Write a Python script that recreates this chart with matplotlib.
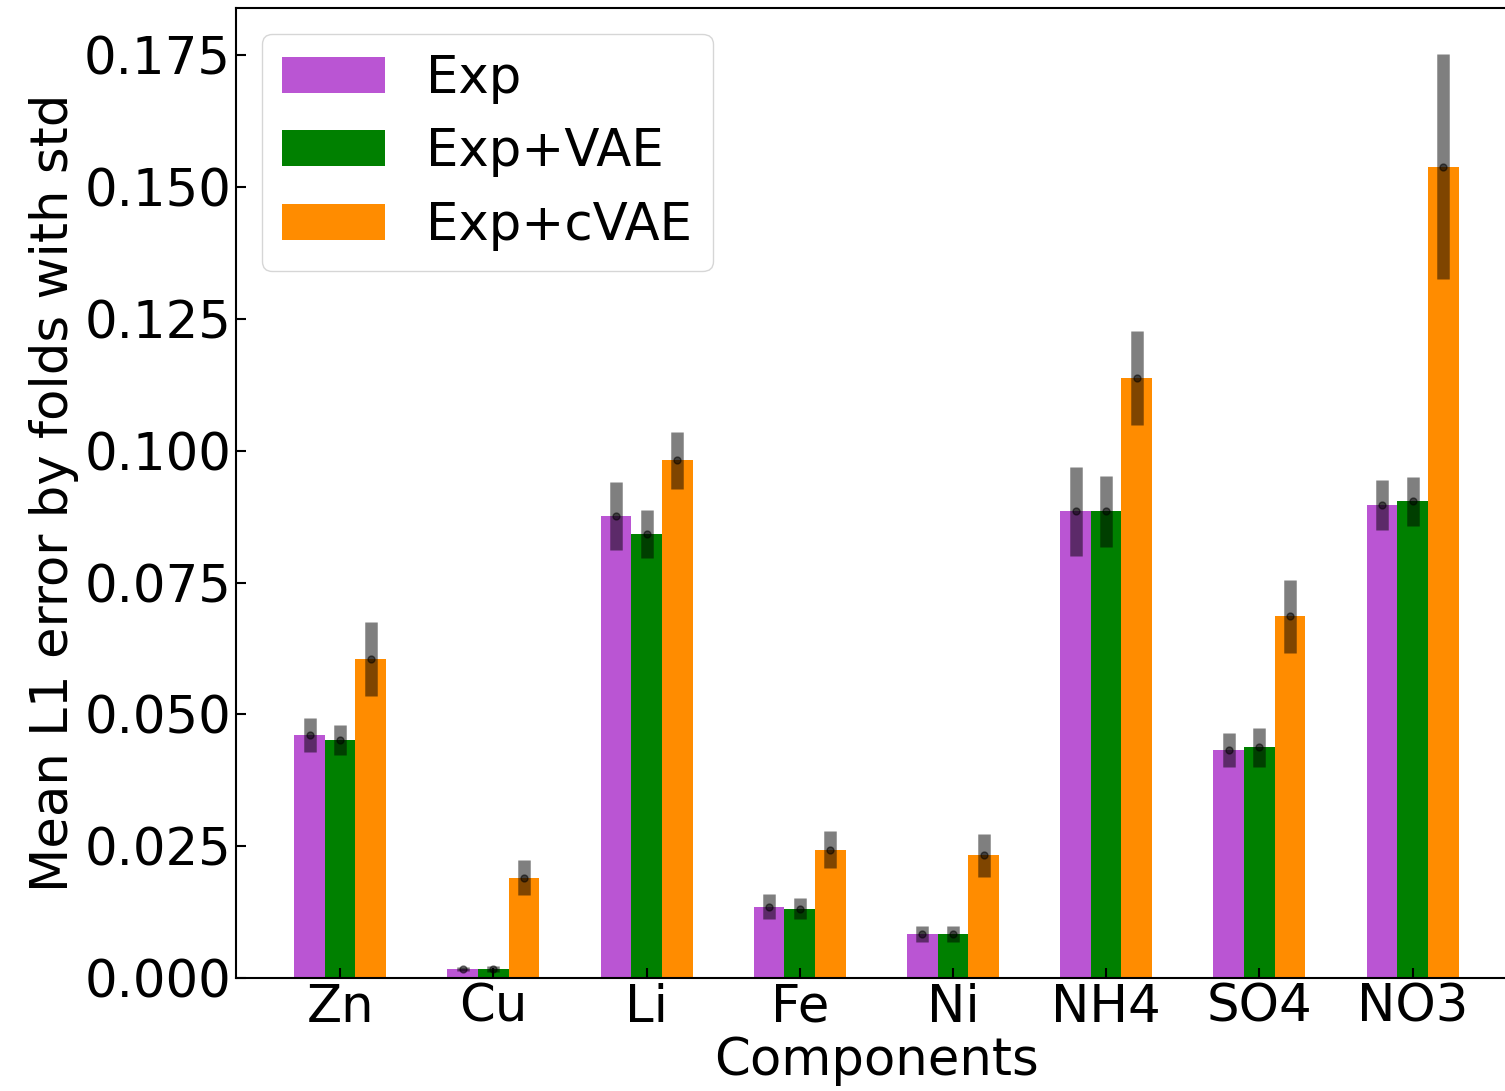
import numpy as np
import matplotlib
matplotlib.use("Agg")
import matplotlib.pyplot as plt

components = ['Zn', 'Cu', 'Li', 'Fe', 'Ni', 'NH4', 'SO4', 'NO3']

exp_mean = [0.0461, 0.0017, 0.0876, 0.0135, 0.0083, 0.0885, 0.0432, 0.0897]
exp_std = [0.0032, 0.0004, 0.0064, 0.0024, 0.0015, 0.0084, 0.0032, 0.0047]

vae_mean = [0.0451, 0.0017, 0.0842, 0.0131, 0.0083, 0.0885, 0.0438, 0.0904]
vae_std = [0.0029, 0.0006, 0.0046, 0.0020, 0.0015, 0.0067, 0.0037, 0.0046]

cvae_mean = [0.0605, 0.0190, 0.0982, 0.0243, 0.0233, 0.1138, 0.0686, 0.1539]
cvae_std = [0.0071, 0.0033, 0.0054, 0.0035, 0.0041, 0.0089, 0.0069, 0.0213]

plt.rcParams['font.size'] = 37
plt.rcParams['axes.linewidth'] = 1.5

fig = plt.figure(figsize=(15.05, 10.91), dpi=100)
ax = fig.add_axes([0.1568, 0.1036, 0.851, 0.889])

x = np.arange(len(components))
w = 0.2
series = [
    (exp_mean, exp_std, 'mediumorchid', 'Exp', -w),
    (vae_mean, vae_std, 'green', 'Exp+VAE', 0),
    (cvae_mean, cvae_std, 'darkorange', 'Exp+cVAE', w),
]
for mean, std, color, label, off in series:
    ax.bar(x + off, mean, w, color=color, label=label)
    ax.errorbar(x + off, mean, yerr=std, fmt='o', color='black', ms=5,
                elinewidth=9, alpha=0.5)

ax.set_xticks(x)
ax.set_xticklabels(components)
ax.tick_params(direction='in', length=7, width=1.5)
ax.set_xlabel('Components', labelpad=2)
ax.set_ylabel('Mean L1 error by folds with std')
ax.legend(loc='upper left', labelspacing=0.45)

fig.savefig('out.png', dpi=100)
